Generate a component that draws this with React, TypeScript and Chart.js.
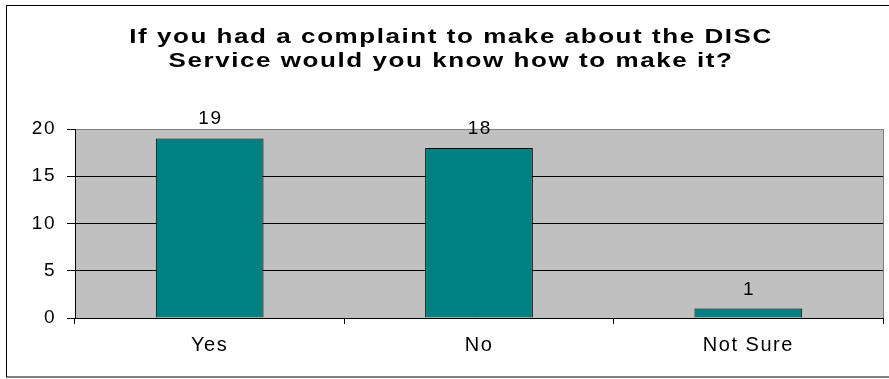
import React, { useEffect, useRef } from 'react';
import { Chart, registerables } from 'chart.js';

Chart.register(...registerables);

const TITLE_LINES = ['If you had a complaint to make about the DISC', 'Service would you know how to make it?'];
const CATEGORIES = ['Yes', 'No', 'Not Sure'];
const RESPONSES = [19, 18, 1];
const Y_MIN = 0;
const Y_MAX = 20;
const Y_STEP = 5;

const FONT = "'Liberation Sans', Arial, Helvetica, sans-serif";
const W = 889;
const H = 379;

const decorPlugin = {
  id: 'decor',
  beforeDraw(chart: any) {
    const { ctx, chartArea: a } = chart;
    ctx.save();
    ctx.fillStyle = '#ffffff';
    ctx.fillRect(0, 0, chart.width, chart.height);
    ctx.fillStyle = '#C0C0C0';
    ctx.fillRect(a.left, a.top, a.right - a.left, a.bottom - a.top);
    ctx.restore();
    ctx.letterSpacing = '1.5px';
  },
  afterDatasetsDraw(chart: any) {
    const { ctx } = chart;
    const meta = chart.getDatasetMeta(0);
    ctx.save();
    ctx.letterSpacing = '1.5px';
    ctx.font = `19px ${FONT}`;
    ctx.fillStyle = '#000';
    ctx.textAlign = 'center';
    ctx.textBaseline = 'alphabetic';
    meta.data.forEach((el: any, i: number) => {
      ctx.fillText(String(RESPONSES[i]), el.x + 0.75, el.y - 14);
    });
    ctx.restore();
  },
  afterDraw(chart: any) {
    const { ctx, chartArea: a } = chart;
    ctx.save();
    ctx.letterSpacing = '0px';
    // right edge of plot area
    ctx.strokeStyle = '#808080';
    ctx.lineWidth = 1;
    ctx.beginPath();
    ctx.moveTo(Math.round(a.right) + 0.5, a.top);
    ctx.lineTo(Math.round(a.right) + 0.5, a.bottom);
    ctx.stroke();
    // outer border
    ctx.strokeStyle = '#000';
    ctx.strokeRect(6.5, 5.5, 900, 371.5);
    // title
    ctx.font = `bold 20px ${FONT}`;
    ctx.fillStyle = '#000';
    ctx.textAlign = 'center';
    ctx.textBaseline = 'alphabetic';
    const baselines = [42.5, 66.7];
    TITLE_LINES.forEach((line, i) => {
      ctx.save();
      ctx.translate(451, baselines[i]);
      ctx.scale(1.3, 1);
      ctx.letterSpacing = '1.2px';
      ctx.fillText(line, 0, 0);
      ctx.restore();
    });
    ctx.restore();
    ctx.letterSpacing = '0px';
  },
};

export default function App() {
  const ref = useRef<HTMLCanvasElement | null>(null);

  useEffect(() => {
    if (!ref.current) return;
    const chart = new Chart(ref.current, {
      type: 'bar',
      data: {
        labels: CATEGORIES,
        datasets: [
          {
            data: RESPONSES,
            backgroundColor: '#008080',
            borderColor: '#000000',
            borderWidth: 1,
            barPercentage: 0.4,
            categoryPercentage: 1.0,
          },
        ],
      },
      options: {
        animation: false,
        responsive: false,
        devicePixelRatio: 1,
        layout: { padding: { top: 129, left: 0, right: 6, bottom: 0 } },
        plugins: {
          legend: { display: false },
          title: { display: false },
          tooltip: { enabled: false },
        },
        scales: {
          x: {
            offset: true,
            grid: {
              offset: true,
              drawOnChartArea: false,
              drawTicks: true,
              tickLength: 6,
              color: '#000000',
            },
            border: { display: true, color: '#000000', width: 1 },
            ticks: {
              color: '#000000',
              font: { family: FONT, size: 20 },
              padding: 9,
              maxRotation: 0,
            },
            afterFit: (scale: any) => {
              scale.height = 61;
            },
          },
          y: {
            min: Y_MIN,
            max: Y_MAX,
            grid: {
              color: (c: any) => (c.tick && c.tick.value === Y_MAX ? '#808080' : '#000000'),
              tickColor: '#000000',
              drawTicks: true,
              tickLength: 8,
            },
            border: { display: true, color: '#000000', width: 1 },
            ticks: {
              stepSize: Y_STEP,
              color: '#000000',
              font: { family: FONT, size: 19 },
              padding: 11,
            },
            afterFit: (scale: any) => {
              scale.width = 75;
            },
          },
        },
      },
      plugins: [decorPlugin],
    });
    return () => chart.destroy();
  }, []);

  return (
    <div style={{ position: 'fixed', left: 0, top: 0, width: W, height: H, background: '#fff' }}>
      <canvas ref={ref} width={W} height={H} style={{ width: W, height: H, display: 'block' }} />
    </div>
  );
}
